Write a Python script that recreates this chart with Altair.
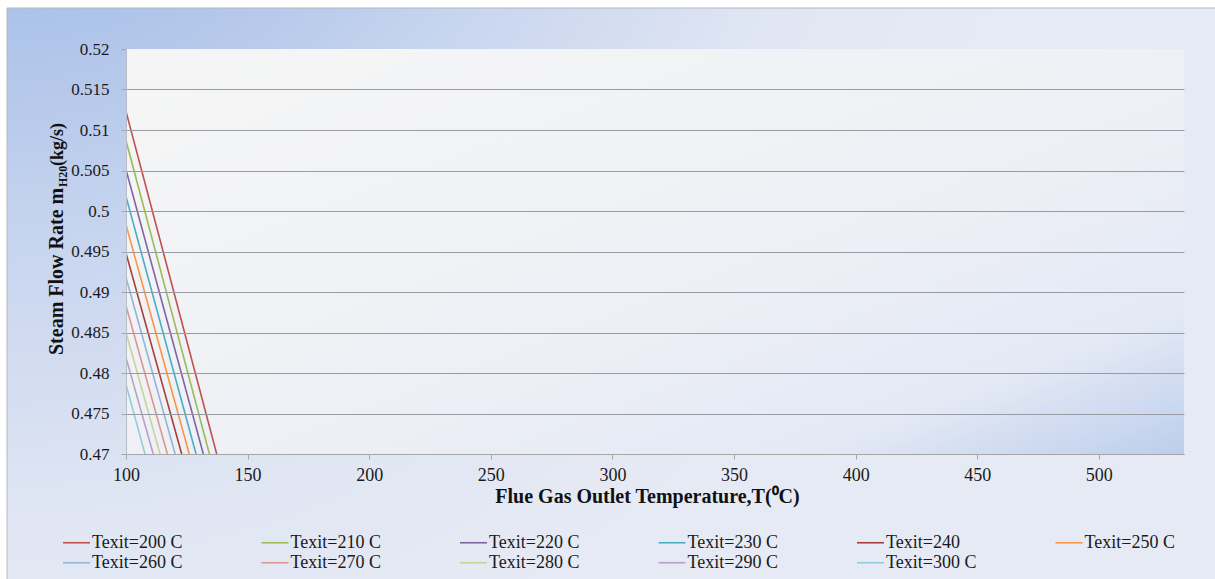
import altair as alt
import pandas as pd

# Steam flow rate vs. flue gas outlet temperature, one line per boiler exit temperature
series = ["Texit=200 C", "Texit=210 C", "Texit=220 C", "Texit=230 C", "Texit=240",
          "Texit=250 C", "Texit=260 C", "Texit=270 C", "Texit=280 C", "Texit=290 C",
          "Texit=300 C"]
colors = ["#C0504D", "#9BBB59", "#8064A2", "#4BACC6", "#A53E3B", "#F79646",
          "#95B3D7", "#D99694", "#C3D69B", "#B3A2C7", "#93CDDD"]

# first point of each line (flue gas at 100 C) and where it reaches 0.47 kg/s
t_start = [100, 100, 100, 100, 100, 100, 100, 100, 100, 100, 100]
flow_start = [0.5123, 0.5087, 0.5051, 0.5018, 0.4948, 0.4983, 0.4918, 0.4883, 0.4850, 0.4819, 0.4786]
t_end = [137.3, 134.3, 131.8, 128.8, 122.9, 126.0, 120.2, 117.0, 114.0, 111.2, 107.8]
flow_end = [0.47, 0.47, 0.47, 0.47, 0.47, 0.47, 0.47, 0.47, 0.47, 0.47, 0.47]

x_ticks = [100, 150, 200, 250, 300, 350, 400, 450, 500]
y_ticks = [0.47, 0.475, 0.48, 0.485, 0.49, 0.495, 0.5, 0.505, 0.51, 0.515, 0.52]

W, H = 1058, 405
FONT = "Liberation Serif"

rows = []
for i, s in enumerate(series):
    rows.append({"series": s, "row": i // 6, "pt": 0, "T": t_start[i], "m": flow_start[i]})
    rows.append({"series": s, "row": i // 6, "pt": 1, "T": t_end[i], "m": flow_end[i]})
df = pd.DataFrame(rows)
one = pd.DataFrame({"k": [0]})

outer_fill = alt.Gradient(
    gradient="radial",
    stops=[alt.GradientStop(color="#98B3E3", offset=0),
           alt.GradientStop(color="#A9C0E8", offset=0.28),
           alt.GradientStop(color="#C9D6EF", offset=0.55),
           alt.GradientStop(color="#E0E6F3", offset=0.8),
           alt.GradientStop(color="#E6EAF4", offset=1)],
    x1=0, y1=0, r1=0, x2=0, y2=0, r2=0.85,
)
plot_fill = alt.Gradient(
    gradient="linear",
    stops=[alt.GradientStop(color="#F6F6F6", offset=0),
           alt.GradientStop(color="#EEF0F5", offset=0.55),
           alt.GradientStop(color="#E4E9F5", offset=0.82),
           alt.GradientStop(color="#BCCEEC", offset=1)],
    x1=0, y1=0, x2=1, y2=1,
)

outer = alt.Chart(one).mark_rect(fill=outer_fill, stroke="#B4B8C0", strokeWidth=1).encode(
    x=alt.value(-119), x2=alt.value(W + 40), y=alt.value(-41), y2=alt.value(H + 140)
)
plot_bg = alt.Chart(one).mark_rect(fill=plot_fill).encode(
    x=alt.value(0), x2=alt.value(W), y=alt.value(0), y2=alt.value(H)
)

x_enc = alt.X("T:Q",
              scale=alt.Scale(domain=[100, 535], nice=False, zero=False),
              axis=alt.Axis(values=x_ticks, title="Flue Gas Outlet Temperature,T(⁰C)",
                            titleFont=FONT, titleFontSize=20, titleFontWeight="bold",
                            titleColor="#111111", titleX=521, titleY=42,
                            titleBaseline="middle",
                            labelFont=FONT, labelFontSize=18, labelColor="#1A1A1A",
                            labelFlush=False, labelPadding=7, tickSize=5,
                            tickColor="#A6A6A6", domainColor="#A6A6A6", grid=False,
                            zindex=1))
y_enc = alt.Y("m:Q",
              scale=alt.Scale(domain=[0.47, 0.52], nice=False, zero=False),
              axis=alt.Axis(values=y_ticks, format=".3~f", title=None,
                            labelFont=FONT, labelFontSize=17, labelColor="#1A1A1A",
                            labelPadding=12, tickSize=5, tickColor="#A6A6A6",
                            domainColor="#B8BCC4",
                            grid=True, gridWidth=1,
                            gridColor={"condition": {"test": "datum.value >= 0.5199",
                                                     "value": "rgba(0,0,0,0)"},
                                       "value": "#989BA3"},
                            zindex=1))


def line_layer(row, names, cols, legend_y):
    # one legend row per layer so the two rows sit at an exact spacing
    return alt.Chart(df).transform_filter(alt.datum.row == row).mark_line(
        strokeWidth=1.6, clip=True
    ).encode(
        x=x_enc,
        y=y_enc,
        color=alt.Color("series:N",
                        scale=alt.Scale(domain=names, range=cols),
                        sort=names,
                        legend=alt.Legend(title=None, orient="none", legendX=-64,
                                          legendY=legend_y, direction="horizontal",
                                          columns=6, gridAlign="all", columnPadding=74.5,
                                          symbolType="stroke", symbolSize=729,
                                          symbolStrokeWidth=1.6, labelOffset=1,
                                          labelFont=FONT, labelFontSize=18,
                                          labelColor="#1A1A1A", labelLimit=200)),
        detail="series:N",
        order="pt:Q",
    )


lines_a = line_layer(0, series[:6], colors[:6], 479)
lines_b = line_layer(1, series[6:], colors[6:], 499)

# vertical axis title with the subscripted H20
title_style = dict(font=FONT, fontWeight="bold", color="#111111", angle=270,
                   align="left", baseline="alphabetic")
ytitle_main = alt.Chart(one).mark_text(fontSize=20, **title_style).encode(
    x=alt.value(-63), y=alt.value(306), text=alt.value("Steam Flow Rate m")
)
ytitle_sub = alt.Chart(one).mark_text(fontSize=12, **title_style).encode(
    x=alt.value(-59), y=alt.value(138), text=alt.value("H20")
)
ytitle_unit = alt.Chart(one).mark_text(fontSize=18, **title_style).encode(
    x=alt.value(-63), y=alt.value(117), text=alt.value("(kg/s)")
)

chart = alt.layer(outer, plot_bg, lines_a, lines_b, ytitle_main, ytitle_sub,
                  ytitle_unit).resolve_scale(color="independent").properties(
    width=W, height=H,
    autosize=alt.AutoSizeParams(type="none"),
    padding={"left": 126, "top": 49, "right": 31, "bottom": 125},
).configure(background="#FFFFFF", font=FONT).configure_view(stroke=None)

chart.save("out.html", embed_options={"renderer": "svg", "actions": False})
